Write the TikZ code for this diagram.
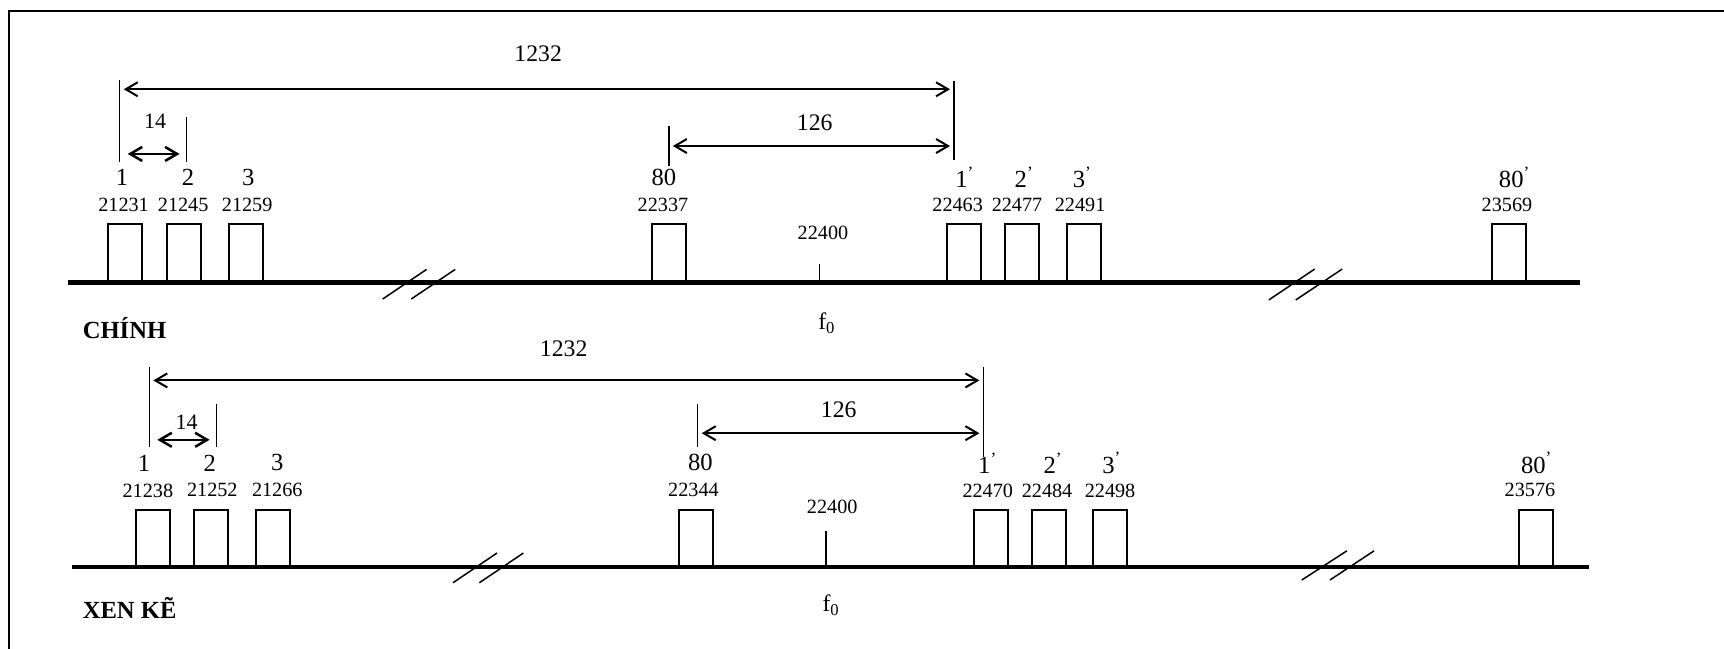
\documentclass[tikz,border=0pt]{standalone}
\usepackage{fontspec}
\setmainfont{Liberation Serif}
\usetikzlibrary{arrows.meta,positioning}

\begin{document}
\begin{tikzpicture}[
  x=0.2199mm, y=-0.2199mm,
  every node/.style={inner sep=0pt},
  chan/.style={rectangle,draw,line width=0.4mm,minimum width=6.8mm,minimum height=11.6mm,anchor=south},
  num/.style={font=\fontsize{14}{16}\selectfont},
  freq/.style={font=\fontsize{11.5}{13}\selectfont},
  dimlab/.style={font=\fontsize{13.5}{16}\selectfont},
  band/.style={font=\bfseries\fontsize{14}{16}\selectfont,anchor=west},
  axis/.style={line width=0.85mm},
  ext/.style={line width=0.3mm},
  brk/.style={line width=0.3mm},
  arr/.style={{Straight Barb[length=2.4mm,width=2.8mm]}-{Straight Barb[length=2.4mm,width=2.8mm]},
              line width=0.4mm,shorten <=0.8mm,shorten >=0.8mm}
]
\useasboundingbox (0,0) rectangle (1568,590);
% frame
\coordinate (fa) at (7.9,590);
\coordinate (fb) at (7.9,9.7);
\coordinate (fc) at (1568,9.7);
\draw[line width=0.4mm] (fa) -- (fb) -- (fc);

% ---- CHINH ----
\coordinate (ca) at (61.7,257);
\coordinate (cb) at (1437,257);
\draw[axis] (ca) -- (cb);
\node[chan] (c1) at (114,257) {};
\node[chan] (c2) at (167.3,257) {};
\node[chan] (c3) at (223.3,257) {};
\node[chan] (c80) at (608.8,257) {};
\node[chan] (c1p) at (876.4,257) {};
\node[chan] (c2p) at (929.3,257) {};
\node[chan] (c3p) at (985.5,257) {};
\node[chan] (c80p) at (1372.7,257) {};
\node[num] (c1n) at (111,161) {1};
\node[num] (c2n) at (171,161) {2};
\node[num] (c3n) at (225.7,161) {3};
\node[num] (c80n) at (603.8,161) {80};
\node[num] (c1pn) at (877.5,161) {1\textsuperscript{'}};
\node[num] (c2pn) at (931.5,161) {2\textsuperscript{'}};
\node[num] (c3pn) at (984.3,161) {3\textsuperscript{'}};
\node[num] (c80pn) at (1377.5,161) {80\textsuperscript{'}};
\node[freq] (c1f) at (112.4,186.5) {21231};
\node[freq] (c2f) at (166.6,186.5) {21245};
\node[freq] (c3f) at (224.8,186.5) {21259};
\node[freq] (c80f) at (603,186.5) {22337};
\node[freq] (c1pf) at (871,186.5) {22463};
\node[freq] (c2pf) at (925,186.5) {22477};
\node[freq] (c3pf) at (982.4,186.5) {22491};
\node[freq] (c80pf) at (1370.6,186.5) {23569};
\coordinate (ct0) at (745.5,257);
\coordinate (ct1) at (745.5,240);
\draw[ext] (ct0) -- (ct1);
\node[freq] (cf0) at (748.5,212.2) {22400};
\node[dimlab] (cfo) at (752,294) {f\textsubscript{0}};
\node[band] (chinh) at (75,298.6) {CHÍNH};
% breaks
\draw[brk] (348,272) -- (388,245) (374,272) -- (414,245);
\draw[brk] (1154,272.8) -- (1195.7,244.7) (1178.5,272.8) -- (1220.7,244.7);
% dimensions
\coordinate (ce1a) at (108.9,72.8);
\coordinate (ce1b) at (108.9,147);
\coordinate (ce2a) at (169.7,106.7);
\coordinate (ce2b) at (169.7,147);
\coordinate (ce3a) at (608.3,114.6);
\coordinate (ce3b) at (608.3,151);
\coordinate (ce4a) at (867.7,73.4);
\coordinate (ce4b) at (867.7,145.5);
\draw[ext] (ce1a) -- (ce1b) (ce2a) -- (ce2b) (ce3a) -- (ce3b) (ce4a) -- (ce4b);
\coordinate (cd1a) at (108.9,81.2);
\coordinate (cd1b) at (867.7,81.2);
\coordinate (cd2a) at (108.9,140);
\coordinate (cd2b) at (169.7,140);
\coordinate (cd3a) at (608.3,132.8);
\coordinate (cd3b) at (867.7,132.8);
\draw[arr] (cd1a) -- (cd1b);
\draw[arr,line width=0.5mm,shorten <=1.6mm,shorten >=1.4mm] (cd2a) -- (cd2b);
\draw[arr] (cd3a) -- (cd3b);
\node[dimlab] (cl1) at (489.5,48.5) {1232};
\node[dimlab,font=\fontsize{12.5}{15}\selectfont] (cl2) at (141,110.7) {14};
\node[dimlab] (cl3) at (741,112) {126};

% ---- XEN KE ----
\coordinate (xa) at (65.2,515.5);
\coordinate (xb) at (1445.5,515.5);
\draw[axis] (xa) -- (xb);
\tikzset{chan/.append style={minimum height=11.1mm}}
\node[chan] (x1) at (139.3,515.5) {};
\node[chan] (x2) at (192.2,515.5) {};
\node[chan] (x3) at (248.6,515.5) {};
\node[chan] (x80) at (633,515.5) {};
\node[chan] (x1p) at (901.1,515.5) {};
\node[chan] (x2p) at (954,515.5) {};
\node[chan] (x3p) at (1009.8,515.5) {};
\node[chan] (x80p) at (1396.8,515.5) {};
\node[num] (x1n) at (131,421) {1};
\node[num] (x2n) at (190.9,421) {2};
\node[num] (x3n) at (252.2,421) {3};
\node[num] (x80n) at (637,421) {80};
\node[num] (x1pn) at (898.3,421) {1\textsuperscript{'}};
\node[num] (x2pn) at (957.8,421) {2\textsuperscript{'}};
\node[num] (x3pn) at (1011.1,421) {3\textsuperscript{'}};
\node[num] (x80pn) at (1397.6,421) {80\textsuperscript{'}};
\node[freq] (x1f) at (134.5,446) {21238};
\node[freq] (x2f) at (193.1,446) {21252};
\node[freq] (x3f) at (252.2,446) {21266};
\node[freq] (x80f) at (630.7,446) {22344};
\node[freq] (x1pf) at (898.4,446) {22470};
\node[freq] (x2pf) at (952.3,446) {22484};
\node[freq] (x3pf) at (1009.6,446) {22498};
\node[freq] (x80pf) at (1391.5,446) {23576};
\coordinate (xt0) at (751.2,515.5);
\coordinate (xt1) at (751.2,482.6);
\draw[ext] (xt0) -- (xt1);
\node[freq] (xf0) at (756.9,460.8) {22400};
\node[dimlab] (xfo) at (755.9,550.3) {f\textsubscript{0}};
\node[band] (xenke) at (75,553.3) {XEN KẼ};
% breaks
\draw[brk] (412,530) -- (452,503) (436,530) -- (476,503);
\draw[brk] (1184,527.5) -- (1225,501) (1209.6,527.5) -- (1249.7,501);
% dimensions
\coordinate (xe1a) at (135.8,333.5);
\coordinate (xe1b) at (135.8,406.8);
\coordinate (xe2a) at (197,367.4);
\coordinate (xe2b) at (197,406.8);
\coordinate (xe3a) at (634.6,367);
\coordinate (xe3b) at (634.6,406.3);
\coordinate (xe4a) at (894.4,333.5);
\coordinate (xe4b) at (894.4,415.4);
\draw[ext] (xe1a) -- (xe1b) (xe2a) -- (xe2b) (xe3a) -- (xe3b) (xe4a) -- (xe4b);
\coordinate (xd1a) at (135.8,346);
\coordinate (xd1b) at (894.4,346);
\coordinate (xd2a) at (135.8,400);
\coordinate (xd2b) at (197,400);
\coordinate (xd3a) at (634.6,394);
\coordinate (xd3b) at (894.4,394);
\draw[arr] (xd1a) -- (xd1b);
\draw[arr,line width=0.5mm,shorten <=1.6mm,shorten >=1.4mm] (xd2a) -- (xd2b);
\draw[arr] (xd3a) -- (xd3b);
\node[dimlab] (xl1) at (512.7,316.8) {1232};
\node[dimlab,font=\fontsize{12.5}{15}\selectfont] (xl2) at (169.7,384.4) {14};
\node[dimlab] (xl3) at (762.8,373) {126};
\end{tikzpicture}
\end{document}
